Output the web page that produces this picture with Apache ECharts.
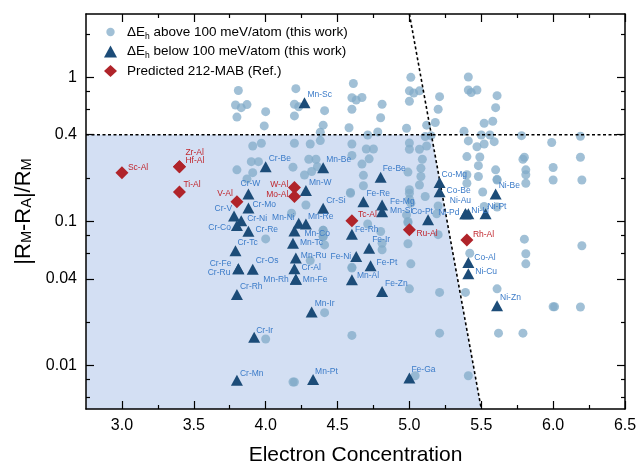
<!DOCTYPE html>
<html><head><meta charset="utf-8">
<script src="https://cdn.jsdelivr.net/npm/echarts@6/dist/echarts.min.js"></script>
<style>html,body{margin:0;padding:0;background:#fff}#c{width:638px;height:465px}</style>
</head><body><div id="c"></div>
<script>
// ---------- data ----------
const xMajorTicks = [3.0, 3.5, 4.0, 4.5, 5.0, 5.5, 6.0, 6.5];
const xMinorTicks = [3.25, 3.75, 4.25, 4.75, 5.25, 5.75, 6.25];
const yTickLabels = [0.01, 0.04, 0.1, 0.4, 1];
const yMinorTicks = [0.006, 0.008, 0.02, 0.06, 0.08, 0.2, 0.6, 0.8, 2];

// dE_h above 100 meV/atom (this work)
const circX = [3.81,3.79,3.83,3.87,3.80,4.00,3.99,4.21,4.20,4.23,4.20,4.41,4.40,4.38,4.58,4.61,4.60,4.63,4.67,4.60,
  4.81,4.80,4.71,4.78,4.98,5.01,5.00,5.03,5.07,5.00,5.21,5.20,5.18,5.12,5.15,5.11,5.41,5.41,5.43,5.47,
  5.61,5.60,5.52,5.58,5.38,5.50,5.56,5.78,6.19,4.38,
  3.91,3.97,4.20,4.31,3.90,3.95,4.19,4.30,4.35,3.80,3.91,3.87,4.27,4.32,4.36,4.60,4.70,4.75,4.60,4.72,
  4.67,4.68,4.68,4.59,4.59,5.00,5.00,5.07,5.12,5.09,5.08,5.08,5.07,4.99,5.00,5.00,5.00,5.01,4.98,5.11,
  5.20,5.20,4.99,4.99,4.99,4.71,4.80,4.81,4.81,4.40,4.40,4.40,4.40,4.41,4.31,4.18,4.28,4.00,4.60,4.60,
  5.01,5.00,5.21,5.39,5.61,4.41,4.60,5.21,5.62,5.79,6.01,6.00,6.19,5.04,5.41,4.19,4.20,4.00,
  5.41,5.47,5.52,5.59,5.99,5.40,5.49,5.80,5.79,6.19,5.48,5.40,5.48,5.40,5.61,5.61,5.60,5.81,5.81,5.81,
  6.00,6.00,6.20,5.51,5.52,5.61,5.19,5.80,5.81,5.81,6.20,5.42];
const circY = [0.81,0.643,0.616,0.647,0.53,0.578,0.46,0.834,0.65,0.625,0.54,0.587,0.466,0.416,0.447,0.906,0.722,0.696,0.725,0.601,
  0.65,0.524,0.398,0.418,0.443,1.0,0.806,0.778,0.806,0.682,0.734,0.601,0.486,0.466,0.394,0.388,1.005,0.817,0.785,0.817,
  0.746,0.616,0.48,0.496,0.423,0.398,0.398,0.394,0.39,0.364,
  0.334,0.349,0.349,0.345,0.26,0.26,0.238,0.27,0.27,0.228,0.218,0.197,0.21,0.222,0.24,0.345,0.318,0.318,0.287,0.272,
  0.25,0.209,0.177,0.159,0.157,0.35,0.317,0.317,0.334,0.27,0.234,0.205,0.179,0.22,0.166,0.157,0.143,0.134,0.111,0.149,
  0.128,0.081,0.0701,0.1,0.098,0.096,0.0852,0.0706,0.0636,0.0868,0.0868,0.0785,0.0785,0.0688,0.0535,0.114,0.13,0.0757,0.0481,0.0475,
  0.0508,0.0341,0.0322,0.0322,0.0341,0.0233,0.0162,0.0168,0.0168,0.0168,0.0256,0.0256,0.0255,0.0085,0.0085,0.0077,0.0077,0.0153,
  0.362,0.33,0.345,0.358,0.353,0.282,0.28,0.279,0.27,0.279,0.244,0.211,0.205,0.184,0.196,0.194,0.228,0.228,0.211,0.184,
  0.237,0.194,0.194,0.16,0.127,0.126,0.113,0.0754,0.0597,0.0508,0.0678,0.0602];

// dE_h below 100 meV/atom (this work)
const triNames = ['Mn-Sc','Cr-Be','Cr-W','Cr-Mo','Cr-V','Cr-Ni','Cr-Co','Cr-Re','Cr-Tc','Cr-Fe','Cr-Ru','Cr-Os','Cr-Rh','Cr-Ir','Cr-Mn',
  'Mn-Be','Mn-W','Mn-Ni','Mn-Re','Mn-Co','Mn-Tc','Mn-Ru','Cr-Al','Mn-Rh','Mn-Fe','Mn-Ir','Mn-Pt','Cr-Si',
  'Fe-Be','Fe-Re','Fe-Mg','Mn-Si','Fe-Rh','Fe-Ir','Fe-Ni','Fe-Pt','Mn-Al','Fe-Zn',
  'Co-Pt','Co-Mg','Co-Be','Ni-Au','Ni-Pd','Ni-Li','Ni-Pt','Ni-Be','Co-Al','Ni-Cu','Ni-Zn','Fe-Ga'];
const triX = [4.27,4.00,3.88,3.88,3.78,3.83,3.80,3.88,3.79,3.81,3.81,3.91,3.80,3.92,3.80,
  4.40,4.28,4.23,4.28,4.20,4.19,4.21,4.20,4.21,4.21,4.32,4.33,4.40,
  4.80,4.68,4.81,4.81,4.60,4.72,4.63,4.73,4.60,4.81,
  5.13,5.21,5.21,5.39,5.39,5.41,5.53,5.60,5.41,5.41,5.61,5.00];
const triY = [0.667,0.24,0.155,0.124,0.109,0.101,0.0937,0.0857,0.0626,0.047,0.047,0.0467,0.0311,0.0157,0.0079,
  0.236,0.164,0.097,0.096,0.086,0.0707,0.0557,0.047,0.0398,0.0398,0.0235,0.008,0.1236,
  0.203,0.137,0.130,0.117,0.0816,0.0653,0.0571,0.0492,0.0394,0.0327,
  0.1026,0.186,0.161,0.113,0.113,0.113,0.113,0.155,0.0519,0.0433,0.026,0.0082];

// Predicted 212-MAB (Ref.)
const refNames = ['Sc-Al','Zr-Al','Hf-Al','Ti-Al','V-Al','W-Al','Mo-Al','Tc-Al','Ru-Al','Rh-Al'];
const refX = [3.0,3.4,3.4,3.4,3.8,4.2,4.2,4.6,5.0,5.4];
const refY = [0.218,0.24,0.24,0.16,0.137,0.172,0.149,0.101,0.0875,0.0745];

// boundaries
const hLineY = 0.4;
const diagX = [5.0, 5.5];
const diagY = [2.75, 0.005];

// ---------- layout of labels (styles) ----------
const labelPos = {
  'Mn-Sc':[3,-8,'left'],'Cr-Be':[3,-8,'left'],'Cr-W':[2,-10,'center'],'Cr-Mo':[4,-3,'left'],'Cr-V':[-2,-7,'right'],
  'Cr-Ni':[6,-2,'left'],'Cr-Co':[-6,2,'right'],'Cr-Re':[7,-1,'left'],'Cr-Tc':[2,-8,'left'],'Cr-Fe':[-7,-5,'right'],
  'Cr-Ru':[-8,4,'right'],'Cr-Os':[3,-8,'left'],'Cr-Rh':[3,-8,'left'],'Cr-Ir':[2,-7,'left'],'Cr-Mn':[3,-7,'left'],
  'Mn-Be':[3,-8,'left'],'Mn-W':[3,-8,'left'],'Mn-Ni':[-4,-6,'right'],'Mn-Re':[2,-7,'left'],'Mn-Co':[10,3,'left'],
  'Mn-Tc':[7,-1,'left'],'Mn-Ru':[5,-2,'left'],'Cr-Al':[7,-1,'left'],'Mn-Rh':[-7,1,'right'],'Mn-Fe':[7,1,'left'],
  'Mn-Ir':[3,-8,'left'],'Mn-Pt':[2,-8,'left'],'Cr-Si':[3,-8,'left'],'Fe-Be':[2,-8,'left'],'Fe-Re':[3,-8,'left'],
  'Fe-Mg':[8,-3,'left'],'Mn-Si':[8,-1,'left'],'Fe-Rh':[3,-5,'left'],'Fe-Ir':[3,-8,'left'],'Fe-Ni':[-5,0,'right'],
  'Fe-Pt':[6,-3,'left'],'Mn-Al':[5,-4,'left'],'Fe-Zn':[3,-8,'left'],'Co-Pt':[-6,-8,'center'],'Co-Mg':[2,-8,'left'],
  'Co-Be':[7,-1,'left'],'Ni-Au':[-5,-13,'center'],'Ni-Pd':[-6,-1,'right'],'Ni-Li':[3,-3,'left'],'Ni-Pt':[2,-7,'left'],
  'Ni-Be':[3,-8,'left'],'Co-Al':[6,-5,'left'],'Ni-Cu':[7,-2,'left'],'Ni-Zn':[3,-8,'left'],'Fe-Ga':[2,-8,'left'],
  'Sc-Al':[6,-5,'left'],'Zr-Al':[6,-14,'left'],'Hf-Al':[6,-6,'left'],'Ti-Al':[4,-7,'left'],'V-Al':[-4,-8,'right'],
  'W-Al':[-6,-3,'right'],'Mo-Al':[-6,-2,'right'],'Tc-Al':[6,-6,'left'],'Ru-Al':[7,4,'left'],'Rh-Al':[6,-5,'left']
};

const FONT = '"Liberation Sans", Arial, Helvetica, sans-serif';
const XMIN = 2.75, XMAX = 6.5, YMIN = 0.005, YMAX = 2.75;

function labelled(names, xs, ys, color) {
  return names.map((n, i) => {
    const p = labelPos[n] || [3, -8, 'left'];
    return {
      name: n, value: [xs[i], ys[i]],
      label: { show: true, formatter: n, position: 'inside', offset: [p[0], p[1]], align: p[2],
        verticalAlign: 'middle', fontSize: 8.5, fontFamily: FONT, color: color }
    };
  });
}

// intersection of diagonal boundary with horizontal line (log-space on y)
const tcut = (Math.log10(diagY[0]) - Math.log10(hLineY)) / (Math.log10(diagY[0]) - Math.log10(diagY[1]));
const xCut = diagX[0] + (diagX[1] - diagX[0]) * tcut;
const shadePoly = [[XMIN, YMIN], [XMIN, hLineY], [xCut, hLineY], [diagX[1], diagY[1]]];

const nameA = 'ΔEh above 100 meV/atom (this work)';
const nameB = 'ΔEh below 100 meV/atom (this work)';
const nameC = 'Predicted 212-MAB (Ref.)';

function xAx(pos, len, vals, labels) {
  return {
    type: 'value', position: pos, min: XMIN, max: XMAX, interval: 0.25,
    axisLine: { show: len === 4, onZero: false, lineStyle: { color: '#000', width: 1.5 } },
    axisTick: { show: true, inside: true, length: len, customValues: vals, lineStyle: { color: '#000', width: 1.2 } },
    axisLabel: labels ? { show: true, customValues: xMajorTicks, formatter: v => (+v).toFixed(1),
      fontSize: 16, fontFamily: FONT, color: '#000', margin: 9 } : { show: false },
    splitLine: { show: false }
  };
}
function yAx(pos, len, vals, labels) {
  return {
    type: 'log', logBase: 10, position: pos, min: YMIN, max: YMAX,
    axisLine: { show: len === 4, onZero: false, lineStyle: { color: '#000', width: 1.5 } },
    axisTick: { show: true, inside: true, length: len, customValues: vals, lineStyle: { color: '#000', width: 1.2 } },
    axisLabel: labels ? { show: true, customValues: yTickLabels, formatter: v => String(+(+v).toPrecision(2)),
      fontSize: 16, fontFamily: FONT, color: '#000', margin: 9 } : { show: false },
    splitLine: { show: false }
  };
}

const xAxes = [xAx('bottom', 4, xMinorTicks, true), xAx('bottom', 8, xMajorTicks, false),
  xAx('top', 4, xMinorTicks, false), xAx('top', 8, xMajorTicks, false)];
xAxes[0].name = 'Electron Concentration';
xAxes[0].nameLocation = 'middle';
xAxes[0].nameGap = 36;
xAxes[0].nameTextStyle = { fontSize: 21, fontFamily: FONT, color: '#000' };

const yAxes = [yAx('left', 4, yMinorTicks, true), yAx('left', 8, yTickLabels, false),
  yAx('right', 4, yMinorTicks, false), yAx('right', 8, yTickLabels, false)];
yAxes[0].name = '{a||R}{s|M}{a|-R}{s|A}{a||/R}{s|M}';
yAxes[0].nameLocation = 'middle';
yAxes[0].nameRotate = 90;
yAxes[0].nameGap = 45;
yAxes[0].nameTextStyle = { rich: {
  a: { fontSize: 22, lineHeight: 26, fontFamily: FONT, color: '#000', verticalAlign: 'bottom' },
  s: { fontSize: 14.5, lineHeight: 14, fontFamily: FONT, color: '#000', verticalAlign: 'bottom' } } };

const chart = echarts.init(document.getElementById('c'), null, { renderer: 'canvas' });
chart.setOption({
  animation: false,
  backgroundColor: '#fff',
  grid: { left: 86, right: 13, top: 14, bottom: 56, containLabel: false, outerBoundsMode: 'none' },
  xAxis: xAxes,
  yAxis: yAxes,
  legend: {
    data: [
      { name: nameA, icon: 'path://M0,0 M12,12 M10.2,6 A4.2,4.2 0 1,1 1.8,6 A4.2,4.2 0 1,1 10.2,6 Z' },
      { name: nameB, icon: 'triangle' },
      { name: nameC, icon: 'diamond' }
    ],
    orient: 'vertical', left: 99, top: 20, itemGap: 3.5,
    itemWidth: 13, itemHeight: 12,
    formatter: function (n) {
      if (n === nameA) return '{n|ΔE}{s|h}{n| above 100 meV/atom (this work)}';
      if (n === nameB) return '{n|ΔE}{s|h}{n| below 100 meV/atom (this work)}';
      return '{n|' + n + '}';
    },
    textStyle: { padding: [0, 0, 0, 5], rich: {
      n: { fontSize: 13.5, lineHeight: 18, fontFamily: FONT, color: '#000' },
      s: { fontSize: 8.5, lineHeight: 10, fontFamily: FONT, color: '#000', verticalAlign: 'bottom' } } }
  },
  series: [
    { type: 'custom', name: 'shade', silent: true, z: 0, xAxisIndex: 0, yAxisIndex: 0,
      data: [[XMIN, hLineY]],
      renderItem: function (params, api) {
        return { type: 'polygon', shape: { points: shadePoly.map(p => api.coord(p)) },
          style: { fill: '#d3dff3', stroke: 'none' } };
      } },
    { type: 'scatter', name: nameA, xAxisIndex: 0, yAxisIndex: 0, z: 2,
      symbol: 'circle', symbolSize: 9,
      itemStyle: { color: '#82abc8', opacity: 0.75 },
      data: circX.map((x, i) => [x, circY[i]]) },
    { type: 'line', name: 'hline', xAxisIndex: 0, yAxisIndex: 0, z: 3, silent: true, symbol: 'none',
      lineStyle: { color: '#000', width: 1.6, type: [3, 2.5] },
      data: [[XMIN, hLineY], [XMAX, hLineY]] },
    { type: 'line', name: 'dline', xAxisIndex: 0, yAxisIndex: 0, z: 3, silent: true, symbol: 'none',
      lineStyle: { color: '#000', width: 1.6, type: [3, 2.5] },
      data: [[diagX[0], diagY[0]], [diagX[1], diagY[1]]] },
    { type: 'scatter', name: nameB, xAxisIndex: 0, yAxisIndex: 0, z: 4,
      symbol: 'triangle', symbolSize: [12, 11],
      itemStyle: { color: '#1c4c78', opacity: 1 },
      data: labelled(triNames, triX, triY, '#3b7bc8') },
    { type: 'scatter', name: nameC, xAxisIndex: 0, yAxisIndex: 0, z: 5,
      symbol: 'diamond', symbolSize: [13, 13],
      itemStyle: { color: '#b0242a', opacity: 1 },
      data: labelled(refNames, refX, refY, '#c0262d') }
  ]
});
</script>
</body></html>
